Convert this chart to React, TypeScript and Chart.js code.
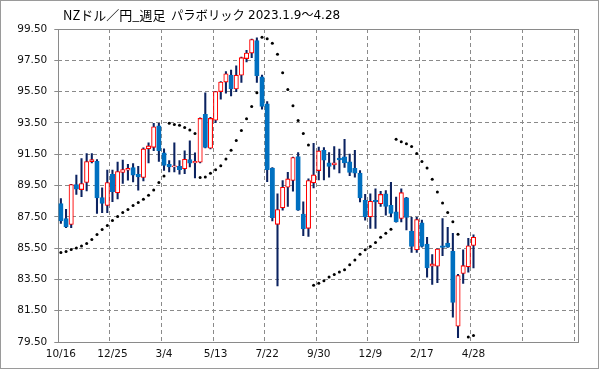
import React, { useEffect, useRef } from "react";
import { Chart, registerables } from "chart.js";

Chart.register(...registerables);

// ---- data (weekly NZD/JPY, week of 2023-10-16 .. 2025-04-28) ----
const OPEN = [
  88.35, 87.39, 87.01, 89.56, 89.24, 89.69, 91.03, 91.05, 88.73, 88.22,
  90.22, 89.03, 90.33, 90.48, 90.65, 90.22, 90.01, 91.84, 91.94, 93.31,
  91.58, 90.85, 90.68, 90.72, 90.57, 91.16, 90.95, 90.99, 94.05, 91.88,
  93.67, 95.5, 96.11, 96.55, 95.67, 96.55, 97.61, 97.96, 98.76, 96.45,
  94.72, 90.62, 87.02, 88.07, 89.39, 89.82, 91.35, 87.67, 86.76, 89.67,
  90.45, 91.75, 90.95, 90.81, 91.25, 91.33, 91.02, 90.59, 90.3, 88.55,
  87.5, 88.55, 88.34, 88.97, 88.24, 87.82, 87.39, 88.72, 86.59, 85.39,
  87.12, 85.75, 84.34, 84.34, 85.65, 85.82, 85.29, 80.51, 83.88, 84.3,
  85.67,
];
const HIGH = [
  88.67, 87.97, 89.58, 90.16, 91.22, 91.54, 91.54, 91.16, 89.35, 90.48,
  90.48, 91.0, 91.12, 90.86, 90.9, 90.73, 91.9, 92.22, 93.48, 93.48,
  91.84, 91.1, 92.22, 91.1, 91.71, 92.36, 91.58, 93.82, 95.42, 93.85,
  95.52, 96.14, 96.78, 96.87, 97.14, 97.7, 98.13, 98.86, 98.93, 96.55,
  94.87, 90.65, 88.97, 89.82, 90.34, 91.32, 91.61, 88.45, 89.92, 92.2,
  91.96, 91.92, 91.6, 91.98, 91.82, 92.45, 91.5, 91.75, 90.45, 88.93,
  88.97, 89.29, 89.12, 89.18, 89.71, 88.76, 89.29, 88.75, 87.46, 87.46,
  87.29, 86.19, 85.08, 85.45, 87.39, 86.83, 86.45, 83.82, 85.39, 86.13,
  86.34,
];
const LOW = [
  87.07, 86.8, 86.8, 88.93, 88.78, 89.16, 90.95, 87.71, 87.76, 87.76,
  88.46, 88.65, 89.63, 89.84, 89.73, 89.2, 89.79, 90.95, 91.73, 91.04,
  90.47, 90.36, 90.36, 90.22, 90.26, 90.68, 89.98, 90.95, 91.9, 91.84,
  93.52, 95.02, 95.4, 95.23, 95.5, 96.09, 97.39, 97.67, 96.09, 94.38,
  89.75, 87.23, 83.08, 87.92, 88.17, 89.14, 87.9, 86.3, 86.24, 89.35,
  89.86, 89.86, 90.03, 90.55, 90.3, 90.66, 90.13, 90.03, 88.45, 87.29,
  86.76, 86.76, 88.17, 87.61, 87.5, 87.15, 87.18, 86.66, 85.23, 85.23,
  85.56, 83.65, 83.18, 83.29, 85.02, 85.54, 81.08, 79.77, 83.25, 83.96,
  84.24,
];
const CLOSE = [
  87.24, 86.86, 89.56, 89.27, 89.63, 91.03, 91.16, 88.71, 88.35, 89.69,
  89.1, 90.39, 90.52, 90.59, 90.16, 90.05, 91.84, 92.03, 93.25, 91.73,
  90.78, 90.68, 90.76, 90.51, 91.18, 90.93, 91.04, 93.79, 91.94, 93.79,
  95.5, 96.11, 96.64, 95.67, 96.55, 97.67, 97.96, 98.83, 96.51, 94.55,
  90.51, 87.44, 87.96, 89.39, 89.92, 91.29, 87.92, 86.72, 89.82, 90.18,
  91.71, 91.12, 90.72, 90.95, 91.14, 90.95, 90.34, 90.28, 88.7, 87.5,
  88.49, 88.45, 88.93, 88.17, 87.71, 87.18, 89.04, 87.46, 85.61, 87.33,
  85.61, 84.24, 84.49, 85.44, 85.54, 85.56, 82.03, 83.75, 84.38, 85.65,
  86.19,
];
// Parabolic SAR (null = no dot)
const SAR: (number | null)[] = [
  85.22, 85.29, 85.41, 85.5, 85.63, 85.8, 86.05, 86.37, 86.69, 86.95,
  87.27, 87.52, 87.78, 87.97, 88.22, 88.41, 88.62, 88.87, 89.21, 89.69,
  90.11, 93.48, 93.39, 93.35, 93.21, 93.04, 92.83, 90.01, 90.05, 90.28,
  90.51, 90.76, 91.2, 91.75, 92.38, 93.02, 93.77, 94.55, 95.42, 98.97,
  98.87, 98.59, 97.88, 96.7, 95.63, 94.59, 93.65, 92.83, 92.08, 83.13,
  83.25, 83.42, 83.65, 83.82, 83.97, 84.11, 84.43, 84.74, 85.1, 85.39,
  85.61, 85.86, 86.19, 86.45, 86.71, 92.45, 92.3, 92.17, 92.0, 91.54,
  91.04, 90.62, 89.9, 89.08, 88.38, 87.77, 87.18, 86.38, null, 79.82,
  79.92,
];
// x tick labels, one every 10 weeks
const X_TICK_LABELS = ["10/16", "12/25", "3/4", "5/13", "7/22", "9/30", "12/9", "2/17", "4/28", "", ""];
const Y_TICKS = [79.5, 81.5, 83.5, 85.5, 87.5, 89.5, 91.5, 93.5, 95.5, 97.5, 99.5];
const TITLE_PARTS = ["NZドル／円_週足", "パラボリック", "2023.1.9〜4.28"];

// ---- styles ----
const BLUE = "#0070C0";
const RED = "#FF0000";
const WICK = "#0B2260";
const GRID = "#8a8a8a";
const FRAME = "#8a8a8a";
const W = 597;
const H = 367;
const PLOT_LEFT = 57.3;
const PLOT_RIGHT = 577.7;
const PLOT_TOP = 28;
const PLOT_BOTTOM = 341;

const framePlugin = {
  id: "plotFrame",
  beforeDatasetsDraw(chart: any) {
    const { ctx, chartArea } = chart;
    const l = Math.floor(chartArea.left) + 0.5;
    const t = Math.floor(chartArea.top) + 0.5;
    const r = Math.floor(chartArea.right) + 0.5;
    const b = Math.floor(chartArea.bottom) + 0.5;
    ctx.save();
    ctx.strokeStyle = FRAME;
    ctx.lineWidth = 1;
    ctx.setLineDash([]);
    ctx.strokeRect(l, t, r - l, b - t);
    ctx.restore();
  },
};

export default function App() {
  const ref = useRef<HTMLCanvasElement | null>(null);

  useEffect(() => {
    if (!ref.current) return;
    const idx = OPEN.map((_, i) => i);
    const up = (i: number) => CLOSE[i] >= OPEN[i];
    const tickFont = { family: "'DejaVu Sans', sans-serif", size: 10.5 };

    const chart = new Chart(ref.current, {
      type: "bar",
      data: {
        datasets: [
          {
            type: "bar",
            label: "wick",
            data: idx.map((i) => ({ x: i, y: [LOW[i], HIGH[i]] })) as any,
            backgroundColor: WICK,
            borderWidth: 0,
            barThickness: 1.4,
            grouped: false,
            order: 3,
          },
          {
            type: "bar",
            label: "body",
            data: idx.map((i) => ({ x: i, y: [OPEN[i], CLOSE[i]] })) as any,
            backgroundColor: idx.map((i) => (up(i) ? "#ffffff" : BLUE)),
            borderColor: idx.map((i) => (up(i) ? RED : BLUE)),
            borderWidth: 1.1,
            borderSkipped: false,
            barThickness: 4.4,
            grouped: false,
            order: 2,
          },
          {
            type: "scatter",
            label: "SAR",
            data: idx
              .filter((i) => SAR[i] !== null)
              .map((i) => ({ x: i, y: SAR[i] as number })),
            pointRadius: 1.5,
            pointBackgroundColor: "#000",
            pointBorderWidth: 0,
            showLine: false,
            order: 1,
          } as any,
        ],
      },
      options: {
        animation: false,
        responsive: false,
        maintainAspectRatio: false,
        events: [],
        layout: {
          padding: { left: 0, right: W - PLOT_RIGHT, top: PLOT_TOP, bottom: 0 },
        },
        plugins: {
          legend: { display: false },
          tooltip: { enabled: false },
          title: { display: false },
        },
        scales: {
          x: {
            type: "linear",
            min: -0.5,
            max: 100.4,
            offset: false,
            afterBuildTicks: (s: any) => {
              s.ticks = X_TICK_LABELS.map((_, k) => ({ value: -0.5 + 10 * k }));
            },
            afterFit: (s: any) => {
              s.height = H - PLOT_BOTTOM;
            },
            ticks: {
              autoSkip: false,
              maxRotation: 0,
              minRotation: 0,
              labelOffset: 2.58,
              padding: 6,
              color: "#111",
              font: tickFont,
              callback: (_v: any, i: number) => X_TICK_LABELS[i],
            },
            grid: {
              offset: false,
              color: GRID,
              lineWidth: 1,
              drawTicks: false,
              borderDash: [4, 3],
            } as any,
            border: { display: false, dash: [4, 3] },
          },
          y: {
            type: "linear",
            min: 79.5,
            max: 99.5,
            afterBuildTicks: (s: any) => {
              s.ticks = Y_TICKS.map((v) => ({ value: v }));
            },
            afterFit: (s: any) => {
              s.width = PLOT_LEFT;
            },
            ticks: {
              padding: 7,
              color: "#111",
              font: tickFont,
              callback: (v: any) => Number(v).toFixed(2),
            },
            grid: {
              color: GRID,
              lineWidth: 1,
              drawTicks: true,
              tickLength: 4,
              tickColor: FRAME,
              tickBorderDash: [],
              borderDash: [4, 3],
            } as any,
            border: { display: false, dash: [4, 3] },
          },
        },
      },
      plugins: [framePlugin],
    });
    return () => chart.destroy();
  }, []);

  const titleStyle: React.CSSProperties = {
    position: "absolute",
    top: 6,
    fontFamily: "'Noto Sans CJK JP', sans-serif",
    fontSize: 13,
    lineHeight: "16px",
    color: "#000",
    whiteSpace: "nowrap",
  };

  return (
    <div
      style={{
        position: "absolute",
        left: 0,
        top: 0,
        width: 599,
        height: 369,
        boxSizing: "border-box",
        border: "1px solid #9a9a9a",
        background: "#fff",
        overflow: "hidden",
      }}
    >
      <canvas ref={ref} width={W} height={H} style={{ display: "block", width: W, height: H }} />
      <span style={{ ...titleStyle, left: 62 }}>{TITLE_PARTS[0]}</span>
      <span style={{ ...titleStyle, left: 170, fontSize: 12.3 }}>{TITLE_PARTS[1]}</span>
      <span
        style={{
          ...titleStyle,
          left: 247,
          fontFamily: "'DejaVu Sans', 'Noto Sans CJK JP', sans-serif",
          fontSize: 12,
        }}
      >
        {TITLE_PARTS[2]}
      </span>
    </div>
  );
}
